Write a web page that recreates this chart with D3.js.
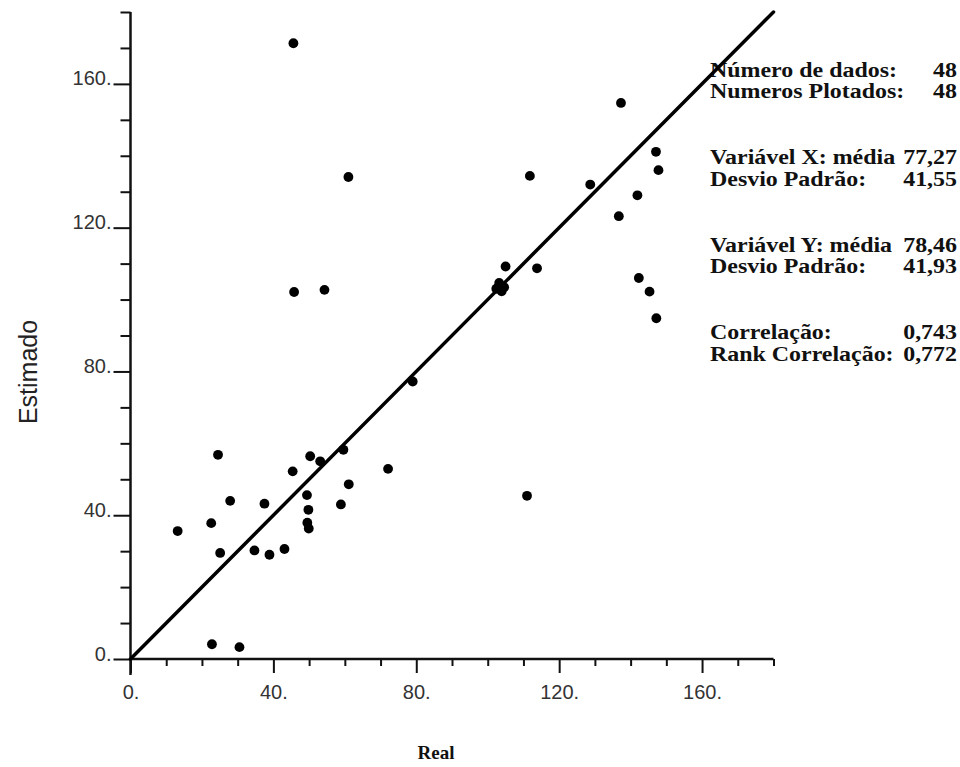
<!DOCTYPE html>
<html><head><meta charset="utf-8">
<script src="https://cdn.jsdelivr.net/npm/d3@7"></script>
<style>body{margin:0;background:#fff}</style>
</head><body><svg id="c" width="960" height="767"></svg>
<script>
// Real (x) and Estimado (y) values
const realX = [45.6, 61.0, 45.8, 54.3, 137.3, 147.1, 147.8, 128.7, 111.8, 141.9, 136.7, 105.0, 113.8,
  102.4, 104.6, 103.2, 103.9, 142.3, 145.3, 147.2, 111.0, 79.0, 24.5, 50.3, 53.1, 59.6, 45.4, 72.1,
  61.1, 49.4, 27.9, 37.5, 58.9, 49.8, 22.6, 13.2, 49.5, 49.9, 25.1, 34.7, 38.9, 43.1, 22.8, 30.5];
const estimY = [171.3, 134.1, 102.1, 102.7, 154.7, 141.1, 136.0, 132.0, 134.4, 129.0, 123.2, 109.2, 108.7,
  103.0, 103.4, 104.6, 102.3, 106.0, 102.2, 94.8, 45.4, 77.2, 56.8, 56.4, 55.0, 58.2, 52.2, 52.9,
  48.6, 45.6, 44.0, 43.2, 43.0, 41.5, 37.8, 35.6, 37.9, 36.3, 29.5, 30.2, 29.0, 30.6, 4.1, 3.3];
const majorTicks = [0, 40, 80, 120, 160];
const minorTicks = [10, 20, 30, 50, 60, 70, 90, 100, 110, 130, 140, 150, 170, 180];
const axisMax = 180;
const statLabels = ["Número de dados:", "Numeros Plotados:", "Variável X: média", "Desvio Padrão:",
  "Variável Y: média", "Desvio Padrão:", "Correlação:", "Rank Correlação:"];
const statValues = ["48", "48", "77,27", "41,55", "78,46", "41,93", "0,743", "0,772"];

const svg = d3.select("#c");
const x = d3.scaleLinear().domain([0, axisMax]).range([130.5, 773.5]);
const y = d3.scaleLinear().domain([0, axisMax]).range([659, 12]);
const tickFont = "'Liberation Sans', Arial, sans-serif";
const serif = "'Liberation Serif', 'Times New Roman', serif";

// stats panel (drawn first; the diagonal passes over it)
const stats = svg.append("g").attr("transform", "translate(710,0) scale(1.14,1)")
  .attr("font-family", serif).attr("font-weight", "bold").attr("font-size", 21).attr("fill", "#111");
statLabels.forEach((t, i) => {
  const by = 77 + Math.floor(i / 2) * 87.5 + (i % 2) * 21.5;
  stats.append("text").attr("x", 0).attr("y", by).text(t);
  stats.append("text").attr("x", (957 - 710) / 1.14).attr("y", by).attr("text-anchor", "end").text(statValues[i]);
});

// x axis
const xMinor = svg.append("g").attr("transform", `translate(0,${y(0)})`)
  .call(d3.axisBottom(x).tickValues(minorTicks).tickSize(7).tickFormat(""));
const xMajor = svg.append("g").attr("transform", `translate(0,${y(0)})`)
  .call(d3.axisBottom(x).tickValues(majorTicks).tickSize(14).tickPadding(12).tickFormat(d => d + "."));
// y axis
const yMinor = svg.append("g").attr("transform", `translate(${x(0)},0)`)
  .call(d3.axisLeft(y).tickValues(minorTicks).tickSize(10).tickFormat(""));
const yMajor = svg.append("g").attr("transform", `translate(${x(0)},0)`)
  .call(d3.axisLeft(y).tickValues(majorTicks).tickSize(17).tickPadding(2).tickFormat(d => d + "."));
[xMinor, xMajor, yMinor, yMajor].forEach(g => {
  g.select(".domain").remove();
  g.selectAll(".tick line").attr("stroke", "#111").attr("stroke-width", 2);
  g.selectAll(".tick text").attr("font-family", tickFont).attr("font-size", 20).attr("fill", "#333");
});
yMajor.selectAll(".tick text").attr("dy", "0.05em");
xMajor.selectAll(".tick text").attr("dy", "0.71em");
// axis lines
svg.append("line").attr("x1", x(0)).attr("x2", x(axisMax)).attr("y1", y(0)).attr("y2", y(0))
  .attr("stroke", "#111").attr("stroke-width", 2.5);
svg.append("line").attr("x1", x(0)).attr("x2", x(0)).attr("y1", y(axisMax)).attr("y2", y(0) + 16)
  .attr("stroke", "#111").attr("stroke-width", 2.5);

// 1:1 line
svg.append("line").attr("x1", x(0)).attr("y1", y(0)).attr("x2", x(axisMax)).attr("y2", y(axisMax))
  .attr("stroke", "#000").attr("stroke-width", 3.5).attr("stroke-linecap", "round");

// points
svg.append("g").selectAll("circle").data(realX.map((v, i) => [v, estimY[i]])).join("circle")
  .attr("cx", d => x(d[0])).attr("cy", d => y(d[1])).attr("r", 4.9).attr("fill", "#000");

// axis titles
svg.append("text").attr("transform", "translate(37,372) rotate(-90)").attr("text-anchor", "middle")
  .attr("font-family", tickFont).attr("font-size", 25).attr("fill", "#222").text("Estimado");
svg.append("text").attr("x", 436).attr("y", 759).attr("text-anchor", "middle")
  .attr("font-family", serif).attr("font-weight", "bold").attr("font-size", 19).attr("fill", "#111").text("Real");
</script></body></html>
